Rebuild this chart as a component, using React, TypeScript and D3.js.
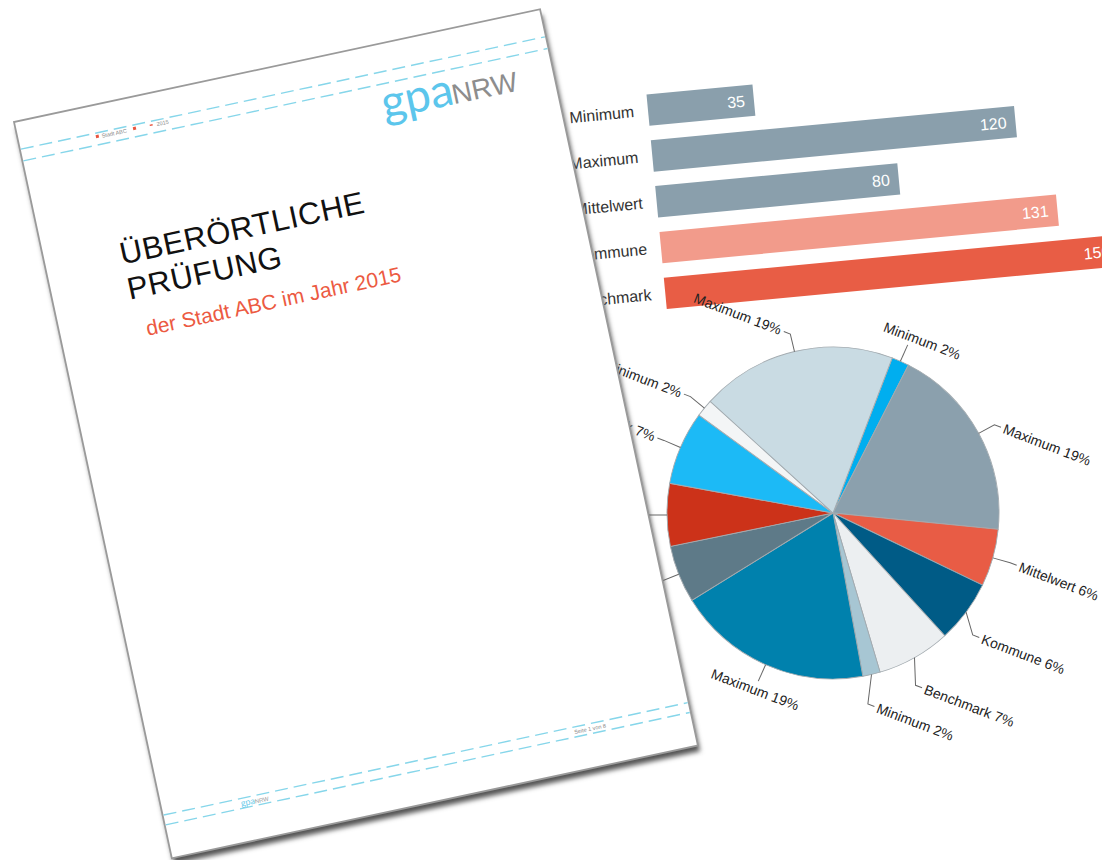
import React from 'react';
import * as d3 from 'd3';

// ---------- data ----------
const barCategories = ['Minimum', 'Maximum', 'Mittelwert', 'Kommune', 'Benchmark'];
const barValues = [35, 120, 80, 131, 150];
const barColors = ['#8a9fac', '#8a9fac', '#8a9fac', '#f29b8b', '#e85d45'];

const pieLabels = ['Minimum', 'Maximum', 'Mittelwert', 'Kommune', 'Benchmark', 'Minimum', 'Maximum', 'Mittelwert', 'Kommune', 'Benchmark', 'Minimum', 'Maximum'];
const pieValues = [1.7, 19.1, 5.6, 6.1, 7.2, 1.7, 19.1, 5.6, 6.1, 7.2, 1.7, 19.1];
const pieColors = ['#00aeef', '#8ba0ad', '#e85c45', '#005b86', '#eceff1', '#a7c6d3', '#0081ad', '#5e7a88', '#cc3219', '#1cbaf6', '#f3f5f6', '#c9dbe3'];

const docTitle = ['ÜBERÖRTLICHE', 'PRÜFUNG'];
const docSubtitle = 'der Stadt ABC im Jahr 2015';
const headerText = ['Stadt ABC', '2015'];
const footerText = 'Seite 1 von 8';

const FONT = "'Liberation Sans', Arial, Helvetica, sans-serif";

function BarChart() {
  const x = d3.scaleLinear().domain([0, 150]).range([0, 456]);
  const y = d3.scaleBand<string>().domain(barCategories).range([0, 215.5]).paddingInner(0.315).paddingOuter(0);
  const bw = y.bandwidth();
  return (
    <g transform="translate(646.5,94.5) rotate(-5.4)" fontFamily={FONT}>
      {barCategories.map((c, i) => {
        const yy = y(c) as number;
        const w = x(barValues[i]);
        return (
          <g key={c}>
            <rect x={0} y={yy} width={w} height={bw} fill={barColors[i]} />
            <text x={-14} y={yy + bw / 2} dy="0.35em" textAnchor="end" fontSize={16} fill="#333">{c}</text>
            <text x={w - 9} y={yy + bw / 2} dy="0.35em" textAnchor="end" fontSize={16} fill="#fff">{barValues[i]}</text>
          </g>
        );
      })}
    </g>
  );
}

function PieChart() {
  const rOuter = 166;
  const rLabel = 184;
  const pie = d3.pie<number>().sort(null).value((d) => d);
  const arcs = pie(pieValues);
  const arcGen = d3.arc<d3.PieArcDatum<number>>().innerRadius(0).outerRadius(rOuter);
  const total = d3.sum(pieValues);
  // label layout: natural radial position, then labels on the lower-right are spread downward
  const layout = arcs.map((a) => {
    const mid = (a.startAngle + a.endAngle) / 2;
    return { mid, sx: Math.sin(mid), cy: -Math.cos(mid) };
  });
  return (
    <g transform="translate(833,513) rotate(20.9)" fontFamily={FONT}>
      {arcs.map((a, i) => (
        <path key={'s' + i} d={arcGen(a) as string} fill={pieColors[i]} stroke="#a3abb0" strokeWidth={0.9} />
      ))}
      {arcs.map((a, i) => {
        const { sx, cy } = layout[i];
        const p0 = [rOuter * sx, rOuter * cy];
        const pct = Math.round((a.value / total) * 100);
        const txt = `${pieLabels[i]} ${pct}%`;
        if (Math.abs(sx) < 0.25) {
          const p1 = [rLabel * sx, rLabel * cy];
          const top = cy < 0;
          return (
            <g key={'l' + i}>
              <polyline points={`${p0[0]},${p0[1]} ${p1[0]},${p1[1]}`} fill="none" stroke="#666" strokeWidth={1} />
              <text x={p1[0] + (top ? 12 : 0)} y={top ? p1[1] - 4 : p1[1] + 14} textAnchor="middle" fontSize={14} fill="#222">{txt}</text>
            </g>
          );
        }
        const side = sx > 0 ? 1 : -1;
        // lower-right labels hang a little lower (leader bends downward)
        const drop = side > 0 && cy > 0.2 ? 14 : 0;
        const p1 = [rLabel * sx - (drop ? 3 : 0), rLabel * cy + drop];
        const p2 = [p1[0] + side * 7, p1[1]];
        return (
          <g key={'l' + i}>
            <polyline points={`${p0[0]},${p0[1]} ${p1[0]},${p1[1]} ${p2[0]},${p2[1]}`} fill="none" stroke="#666" strokeWidth={1} />
            <text x={p2[0] + side * 3} y={p2[1]} dy="0.35em" textAnchor={side > 0 ? 'start' : 'end'} fontSize={14} fill="#222">{txt}</text>
          </g>
        );
      })}
    </g>
  );
}

function Page() {
  const W = 538;
  const H = 753;
  return (
    <g transform="translate(14,122) rotate(-12.1)" fontFamily={FONT}>
      <rect x={1} y={6} width={W} height={H} fill="#555" filter="url(#shadowBlur)" />
      <rect x={0} y={0} width={W} height={H} fill="#ffffff" stroke="#9a9a9a" strokeWidth={1.8} />
      <line x1={0} y1={0.5} x2={W} y2={0.5} stroke="#000" strokeWidth={2} filter="url(#edgeBlur)" />
      {/* header rules */}
      <line x1={1} y1={28} x2={W - 1} y2={28} stroke="#86d6ea" strokeWidth={1.4} strokeDasharray="13 6" />
      <line x1={1} y1={40} x2={W - 1} y2={40} stroke="#86d6ea" strokeWidth={1.4} strokeDasharray="13 6" />
      <rect x={77} y={30} width={3} height={3} fill="#e8553f" />
      <text x={83} y={34} fontSize={5.5} fill="#888">{headerText[0]}</text>
      <rect x={115} y={30} width={3} height={3} fill="#e8553f" />
      <rect x={132} y={31} width={3} height={1.5} fill="#e8553f" />
      <text x={139} y={34} fontSize={5.5} fill="#888">{headerText[1]}</text>
      {/* logo */}
      <text x={363} y={75} fontSize={46} fill="#5cc6ec" fontFamily="Lato, 'Noto Sans', sans-serif">gpa</text>
      <text x={434} y={75} fontSize={28} fill="#8d8d8d">NRW</text>
      {/* title */}
      <text x={76} y={162} fontSize={31} fill="#111" letterSpacing={0.6}>{docTitle[0]}</text>
      <text x={76} y={198} fontSize={31} fill="#111" letterSpacing={0.6}>{docTitle[1]}</text>
      <text x={86} y={237} fontSize={21} fill="#ec5a42">{docSubtitle}</text>
      {/* footer rules */}
      <line x1={1} y1={709} x2={W - 1} y2={709} stroke="#86d6ea" strokeWidth={1.4} strokeDasharray="13 6" />
      <line x1={1} y1={719} x2={W - 1} y2={719} stroke="#86d6ea" strokeWidth={1.4} strokeDasharray="13 6" />
      <text x={79} y={717} fontSize={9} fill="#6ccbea" fontFamily="Lato, 'Noto Sans', sans-serif">gpa</text>
      <text x={93} y={717} fontSize={6} fill="#999">NRW</text>
      <text x={420} y={716} fontSize={5.5} fill="#888">{footerText}</text>
    </g>
  );
}

export default function App() {
  return (
    <svg width={1102} height={860} viewBox="0 0 1102 860" style={{ position: 'absolute', left: 0, top: 0, background: '#fff' }}>
      <defs>
        <filter id="shadowBlur" x="-5%" y="-5%" width="110%" height="110%">
          <feGaussianBlur stdDeviation={2.4} />
        </filter>
        <filter id="edgeBlur" x="-5%" y="-200%" width="110%" height="500%">
          <feGaussianBlur stdDeviation={0.6} />
        </filter>
      </defs>
      <rect x={0} y={0} width={1102} height={860} fill="#fff" />
      <BarChart />
      <PieChart />
      <Page />
    </svg>
  );
}
